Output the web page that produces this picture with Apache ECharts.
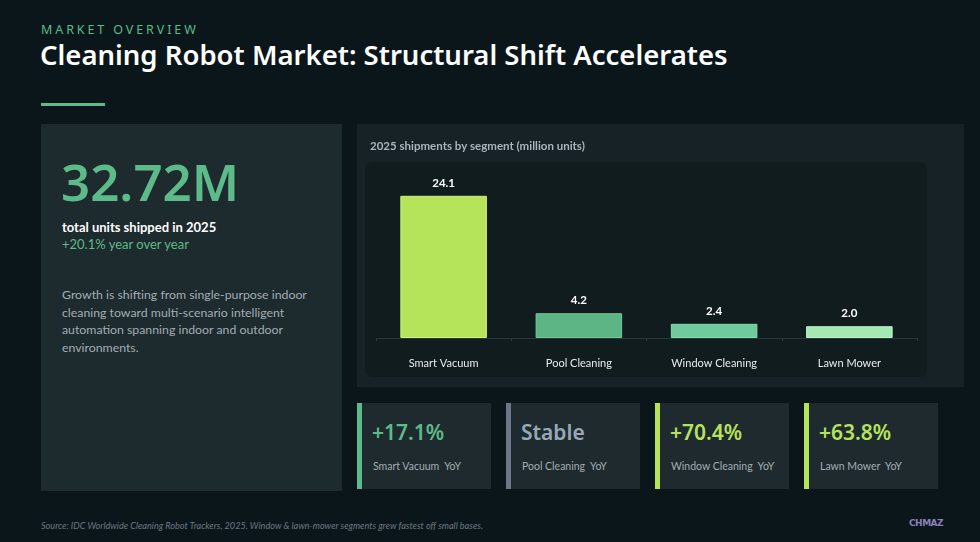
<!DOCTYPE html>
<html>
<head>
<meta charset="utf-8">
<script src="https://cdn.jsdelivr.net/npm/echarts@6/dist/echarts.min.js"></script>
<style>
    html, body { margin: 0; padding: 0; }
    body { width: 980px; height: 542px; background: #0b161b; position: relative; overflow: hidden; font-family: Lato, "Noto Sans", sans-serif; }
    .abs { position: absolute; }
    .kicker { left: 41px; top: 21px; font-family: "Noto Sans"; font-size: 12.5px; letter-spacing: 2.9px; color: #5dbb8a; }
    .title { left: 40px; top: 36px; font-family: "Noto Sans"; font-size: 27.5px; font-weight: 600; color: #ffffff; white-space: nowrap; }
    .rule { left: 41px; top: 103px; width: 64px; height: 3px; background: #5dbb8a; }
    .panel { left: 41px; top: 124px; width: 301px; height: 367px; background: #1d2a2e; }
    .big { left: 61px; top: 146px; font-family: "Noto Sans"; font-size: 51px; font-weight: 600; color: #5dbb8a; }
    .sub1 { left: 62px; top: 219px; font-size: 13px; font-weight: bold; color: #ffffff; }
    .sub2 { left: 62px; top: 236px; font-size: 13px; color: #5dbb8a; }
    .para { left: 62px; top: 286px; font-size: 12.3px; line-height: 17.5px; color: #a3adb3; white-space: nowrap; }
    #chart { left: 357px; top: 124px; width: 607px; height: 263px; }
    .card { top: 403px; width: 134px; height: 86px; background: #1e2a2e; }
    .card .bar { position: absolute; left: 0; top: 0; width: 5px; height: 86px; }
    .card .val { position: absolute; left: 15px; top: 15px; font-family: "Noto Sans"; font-size: 21px; font-weight: 600; }
    .card .lab { position: absolute; left: 16px; top: 57px; font-size: 10.5px; color: #a3adb3; white-space: pre; }
    .source { left: 41px; top: 520px; font-size: 9.1px; font-style: italic; color: #6c7880; }
    .logo { left: 909px; top: 518px; font-family: "DejaVu Sans"; font-weight: bold; font-size: 9px; color: #8a7fb8; letter-spacing: -0.5px; }
</style>
</head>
<body>
<div class="abs kicker">MARKET OVERVIEW</div>
<div class="abs title">Cleaning Robot Market: Structural Shift Accelerates</div>
<div class="abs rule"></div>

<div class="abs panel"></div>
<div class="abs big">32.72M</div>
<div class="abs sub1">total units shipped in 2025</div>
<div class="abs sub2">+20.1% year over year</div>
<div class="abs para">Growth is shifting from single-purpose indoor<br>cleaning toward multi-scenario intelligent<br>automation spanning indoor and outdoor<br>environments.</div>

<div class="abs" id="chart"></div>
<div id="cards"></div>

<div class="abs source">Source: IDC Worldwide Cleaning Robot Trackers, 2025. Window &amp; lawn-mower segments grew fastest off small bases.</div>
<div class="abs logo">CHMAZ</div>

<script>
    // 2025 shipments, million units
    var segments = ['Smart Vacuum', 'Pool Cleaning', 'Window Cleaning', 'Lawn Mower'];
    var shipments = [24.1, 4.2, 2.4, 2.0];
    var barColors = ['#b5e35a', '#5db585', '#6fcb9c', '#a4e8b4'];
    var barBorders = ['#cdf27a', '#74c898', '#86dbb0', '#bdf3c8'];

    // YoY cards
    var yoyValues = ['+17.1%', 'Stable', '+70.4%', '+63.8%'];
    var yoyAccent = ['#5dbb8a', '#6b7688', '#b5e35a', '#b5e35a'];
    var yoyValueColor = ['#5dbb8a', '#9aa7b8', '#b5e35a', '#b5e35a'];
    var cardLeft = [357, 506, 655, 804];

    var cardsHtml = '';
    for (var i = 0; i < segments.length; i++) {
        cardsHtml += '<div class="abs card" style="left:' + cardLeft[i] + 'px">';
        cardsHtml += '<div class="bar" style="background:' + yoyAccent[i] + '"></div>';
        cardsHtml += '<div class="val" style="color:' + yoyValueColor[i] + '">' + yoyValues[i] + '</div>';
        cardsHtml += '<div class="lab">' + segments[i] + '  YoY</div>';
        cardsHtml += '</div>';
    }
    document.getElementById('cards').innerHTML = cardsHtml;

    var chart = echarts.init(document.getElementById('chart'));
    var barData = [];
    for (var j = 0; j < shipments.length; j++) {
        barData.push({
            value: shipments[j],
            itemStyle: { color: barColors[j], borderColor: barBorders[j], borderWidth: 1 }
        });
    }

    var option = {
        backgroundColor: '#172226',
        animation: false,
        graphic: [
            {
                type: 'rect',
                shape: { x: 8, y: 38, width: 562, height: 215, r: 8 },
                style: { fill: '#111c1f' },
                z: -1
            },
            {
                type: 'text',
                left: 13,
                top: 16,
                style: { text: '2025 shipments by segment (million units)', fill: '#aab4bb', font: 'bold 11.5px Lato' }
            }
        ],
        grid: { left: 19, right: 47, top: 37, bottom: 49 },
        xAxis: {
            type: 'category',
            data: segments,
            axisLine: { lineStyle: { color: '#26363a' } },
            axisTick: { show: true, length: 3, lineStyle: { color: '#2c3e40' } },
            axisLabel: { color: '#e6ecef', fontSize: 11, fontFamily: 'Lato', margin: 20 }
        },
        yAxis: {
            type: 'value',
            min: 0,
            max: 30,
            show: false,
            splitLine: { show: false }
        },
        series: [{
            type: 'bar',
            data: barData,
            barWidth: '64%',
            label: {
                show: true,
                position: 'top',
                distance: 7,
                color: '#ffffff',
                fontWeight: 'bold',
                fontSize: 11.5,
                fontFamily: 'Lato',
                formatter: function (p) { return p.value.toFixed(1); }
            }
        }]
    };
    chart.setOption(option);
</script>
</body>
</html>
